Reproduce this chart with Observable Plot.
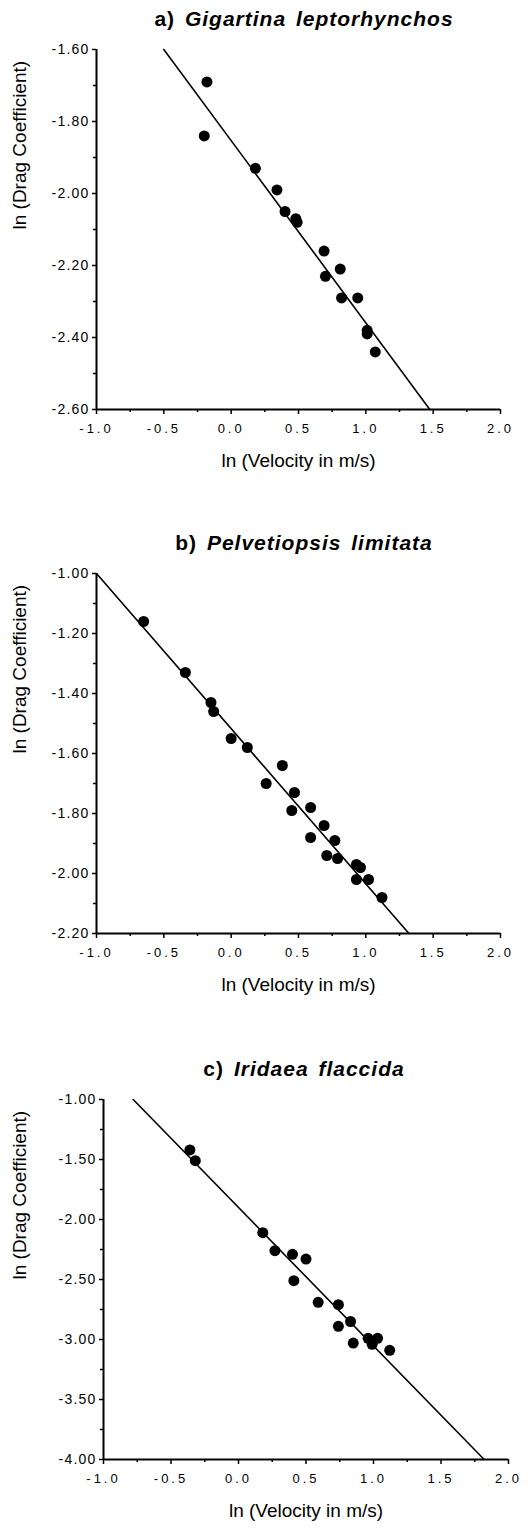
<!DOCTYPE html>
<html>
<head>
<meta charset="utf-8">
<script src="https://cdn.jsdelivr.net/npm/d3@7"></script>
<script src="https://cdn.jsdelivr.net/npm/@observablehq/plot@0.6"></script>
<style>
  body { margin: 0; background: #fff; font-family: "Liberation Sans", Arial, sans-serif; color: #000; }
  .panel { width: 531px; }
  .title { height: 38px; line-height: 38px; text-align: center; padding-left: 77px; box-sizing: border-box;
           font-weight: bold; font-size: 21px; letter-spacing: 1px; word-spacing: 3px; white-space: nowrap; }
  .title i { font-style: italic; }
  svg g[aria-label="x-axis tick label"] text { letter-spacing: 3px; }
  svg g[aria-label="y-axis tick label"] text { letter-spacing: 1.2px; }
</style>
</head>
<body>
<div id="chart"></div>
<script>
// ---- Data ----
const panelLetters = ["a", "b", "c"];
const speciesNames = ["Gigartina leptorhynchos", "Pelvetiopsis limitata", "Iridaea flaccida"];
const xAxisLabel = "ln (Velocity in m/s)";
const yAxisLabel = "ln (Drag Coefficient)";

const xTicksMajor = [-1.0, -0.5, 0.0, 0.5, 1.0, 1.5, 2.0];
const xTicksMinor = [-0.75, -0.25, 0.25, 0.75, 1.25, 1.75];

// a) Gigartina leptorhynchos
const aVel  = [-0.18, -0.20, 0.18, 0.34, 0.40, 0.48, 0.49, 0.69, 0.70, 0.81, 0.82, 0.94, 1.01, 1.01, 1.07];
const aDrag = [-1.69, -1.84, -1.93, -1.99, -2.05, -2.07, -2.08, -2.16, -2.23, -2.21, -2.29, -2.29, -2.38, -2.39, -2.44];
const aFitVel  = [-0.50, 1.475];
const aFitDrag = [-1.60, -2.60];
const aYTicksMajor = [-1.6, -1.8, -2.0, -2.2, -2.4, -2.6];
const aYTicksMinor = [-1.7, -1.9, -2.1, -2.3, -2.5];

// b) Pelvetiopsis limitata
const bVel  = [-0.65, -0.34, -0.15, -0.13, 0.00, 0.12, 0.38, 0.26, 0.47, 0.45, 0.59, 0.59, 0.69, 0.71, 0.77, 0.79, 0.93, 0.96, 0.93, 1.02, 1.12];
const bDrag = [-1.16, -1.33, -1.43, -1.46, -1.55, -1.58, -1.64, -1.70, -1.73, -1.79, -1.78, -1.88, -1.84, -1.94, -1.89, -1.95, -1.97, -1.98, -2.02, -2.02, -2.08];
const bFitVel  = [-1.00, 1.32];
const bFitDrag = [-1.00, -2.20];
const bYTicksMajor = [-1.0, -1.2, -1.4, -1.6, -1.8, -2.0, -2.2];
const bYTicksMinor = [-1.1, -1.3, -1.5, -1.7, -1.9, -2.1];

// c) Iridaea flaccida
const cVel  = [-0.36, -0.32, 0.18, 0.27, 0.40, 0.50, 0.41, 0.59, 0.74, 0.74, 0.83, 0.85, 0.96, 1.03, 0.99, 1.12];
const cDrag = [-1.42, -1.51, -2.11, -2.26, -2.29, -2.33, -2.51, -2.69, -2.71, -2.89, -2.85, -3.03, -2.99, -2.99, -3.04, -3.09];
const cFitVel  = [-0.78, 1.82];
const cFitDrag = [-1.00, -4.00];
const cYTicksMajor = [-1.0, -1.5, -2.0, -2.5, -3.0, -3.5, -4.0];
const cYTicksMinor = [-1.25, -1.75, -2.25, -2.75, -3.25, -3.75];

// ---- Build panels ----
const panels = [
  {vel: aVel, drag: aDrag, fitVel: aFitVel, fitDrag: aFitDrag, major: aYTicksMajor, minor: aYTicksMinor,
   layout: {ml: 96, mr: 31, gapBefore: 0}},
  {vel: bVel, drag: bDrag, fitVel: bFitVel, fitDrag: bFitDrag, major: bYTicksMajor, minor: bYTicksMinor,
   layout: {ml: 96, mr: 31, gapBefore: 41}},
  {vel: cVel, drag: cDrag, fitVel: cFitVel, fitDrag: cFitDrag, major: cYTicksMajor, minor: cYTicksMinor,
   layout: {ml: 103, mr: 23, gapBefore: 43}}
];

const chart = document.getElementById("chart");

panels.forEach((p, i) => {
  const pts = p.vel.map((v, j) => ({x: v, y: p.drag[j]}));
  const fit = p.fitVel.map((v, j) => ({x: v, y: p.fitDrag[j]}));
  const yMax = d3.max(p.major), yMin = d3.min(p.major);
  const L = p.layout;

  const div = document.createElement("div");
  div.className = "panel";
  div.style.marginTop = L.gapBefore + "px";

  const title = document.createElement("div");
  title.className = "title";
  title.innerHTML = `<span>${panelLetters[i]})</span> <i>${speciesNames[i]}</i>`;
  div.appendChild(title);

  const svg = Plot.plot({
    width: 531,
    height: 445,
    marginTop: 11,
    marginBottom: 74,
    marginLeft: L.ml,
    marginRight: L.mr,
    style: {fontFamily: '"Liberation Sans", Arial, sans-serif', background: "#fff", color: "#000", overflow: "visible"},
    x: {domain: [-1, 2]},
    y: {domain: [yMin, yMax]},
    marks: [
      Plot.axisY(p.major, {tickSize: 4, tickPadding: 3, tickFormat: d => d.toFixed(2), label: null,
                           fontSize: 14, strokeWidth: 1.5}),
      Plot.axisY(p.minor, {tickSize: 3, tickFormat: () => "", label: null, strokeWidth: 1.5}),
      Plot.axisX(xTicksMajor, {tickSize: 5, tickPadding: 9, tickFormat: d => d.toFixed(1), label: null,
                               fontSize: 13, strokeWidth: 1.5}),
      Plot.axisX(xTicksMinor, {tickSize: 3, tickFormat: () => "", label: null, strokeWidth: 1.5}),
      Plot.ruleX([-1], {stroke: "#000", strokeWidth: 2}),
      Plot.ruleY([yMin], {stroke: "#000", strokeWidth: 2}),
      Plot.line(fit, {x: "x", y: "y", stroke: "#000", strokeWidth: 1.6}),
      Plot.dot(pts, {x: "x", y: "y", r: 5.5, fill: "#000", stroke: null}),
      Plot.text([yAxisLabel], {text: d => d, frameAnchor: "left", rotate: -90, dx: -(L.ml - 19),
                               fontSize: 19, fill: "#000"}),
      Plot.text([xAxisLabel], {text: d => d, frameAnchor: "bottom", dy: 57, fontSize: 19, fill: "#000"})
    ]
  });
  div.appendChild(svg);
  chart.appendChild(div);
});
</script>
</body>
</html>
